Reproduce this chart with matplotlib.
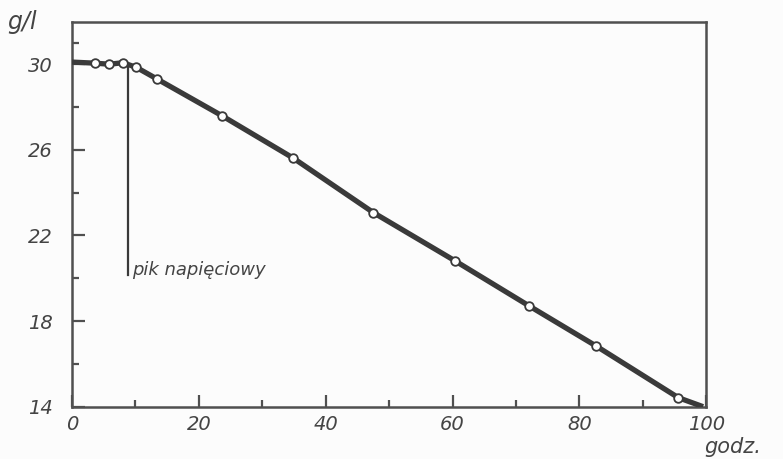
import matplotlib
matplotlib.use("Agg")
import matplotlib.pyplot as plt

# Data
hours = [3.6, 5.9, 8.0, 10.1, 13.4, 23.6, 34.9, 47.5, 60.4, 72.0, 82.6, 95.6]
conc = [30.05, 30.0, 30.07, 29.86, 29.31, 27.6, 25.61, 23.07, 20.81, 18.72, 16.84, 14.42]
line_start = (0.0, 30.1)
line_end = (99.5, 14.0)
peak_hour = 8.9
peak_low = 20.15
peak_label = "pik napięciowy"
x_major = [0, 20, 40, 60, 80, 100]
x_minor = [10, 30, 50, 70, 90]
y_major = [14, 18, 22, 26, 30]
y_minor = [16, 20, 24, 28, 31]
y_unit = "g/l"
x_unit = "godz."

ink = "#3a3a3a"
frame = "#505050"
fam = ["DejaVu Sans"]

fig = plt.figure(figsize=(7.83, 4.59), dpi=100, facecolor="#fcfcfc")
ax = fig.add_axes([0.092, 0.114, 0.81, 0.837])
ax.set_facecolor("#fcfcfc")

lx = [line_start[0]] + hours + [line_end[0]]
ly = [line_start[1]] + conc + [line_end[1]]
ax.plot(lx, ly, color=ink, lw=3.8, solid_capstyle="butt", zorder=3)
ax.plot(hours, conc, linestyle="none", marker="o", ms=6.2, mfc="white",
        mec=ink, mew=1.3, zorder=4)

ax.plot([peak_hour, peak_hour], [30.05, peak_low], color=ink, lw=1.6, zorder=2)
ax.text(peak_hour + 0.5, peak_low + 0.25, peak_label, fontsize=13, style="italic",
        color="#444444", family=fam, ha="left", va="center")

ax.set_xlim(0, 100)
ax.set_ylim(14, 31.95)

for s in ax.spines.values():
    s.set_color(frame)
    s.set_linewidth(1.8)

ax.set_xticks(x_major)
ax.set_xticks(x_minor, minor=True)
ax.set_yticks(y_major)
ax.set_yticks(y_minor, minor=True)
ax.set_xticklabels([str(v) for v in x_major])
ax.set_yticklabels([str(v) for v in y_major])
ax.tick_params(axis="both", which="major", direction="in", length=9, width=1.6,
               color=frame, labelsize=14, labelcolor="#444444")
ax.tick_params(axis="both", which="minor", direction="in", length=5, width=1.6,
               color=frame)
ax.tick_params(axis="x", which="major", pad=6)
ax.tick_params(axis="y", which="major", pad=14)
ax.xaxis.set_ticks_position("bottom")
ax.yaxis.set_ticks_position("left")
for lab in ax.get_xticklabels() + ax.get_yticklabels():
    lab.set_style("italic")
    lab.set_family(fam)

fig.text(22 / 783, 1 - 22 / 459, y_unit, fontsize=17, style="italic", color="#444444",
         family=fam, ha="center", va="center")
fig.text(733 / 783, 1 - 447 / 459, x_unit, fontsize=15, style="italic", color="#444444",
         family=fam, ha="center", va="center")

fig.savefig("out.png", dpi=100, facecolor=fig.get_facecolor())
